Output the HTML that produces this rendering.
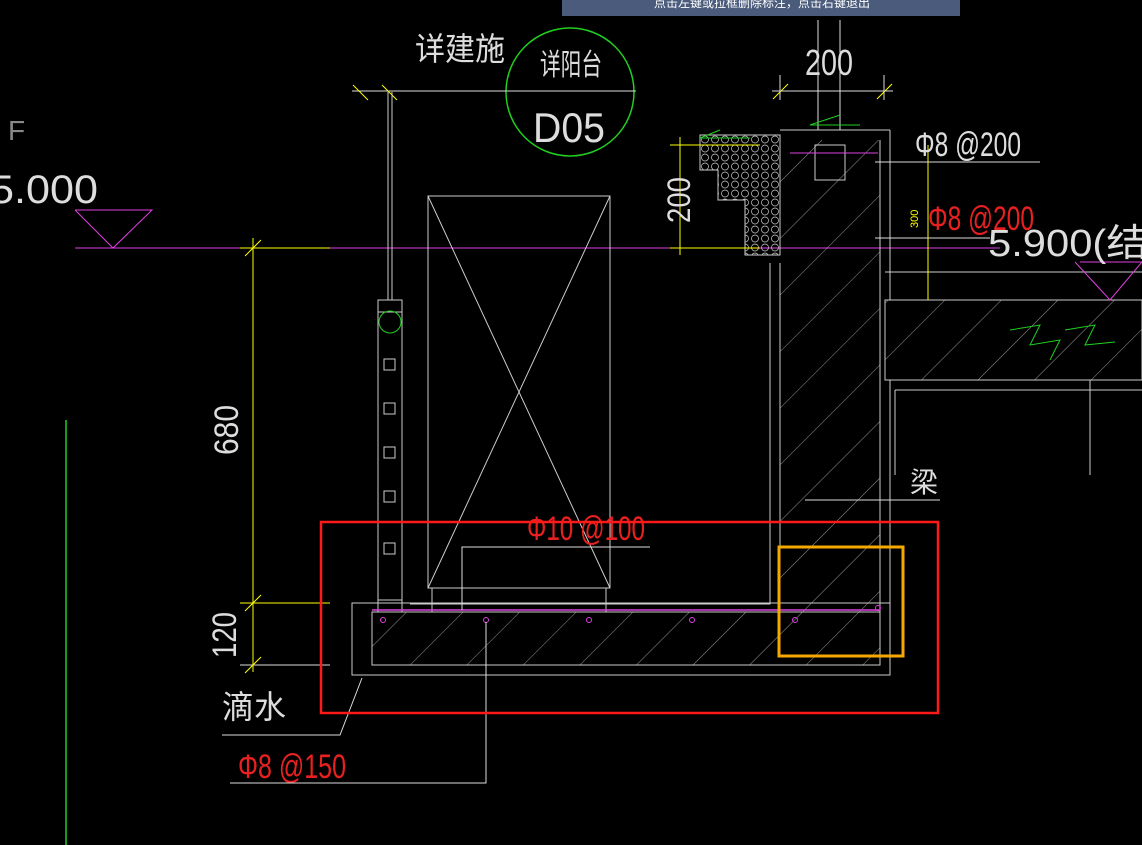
<!DOCTYPE html>
<html><head><meta charset="utf-8"><style>
html,body{margin:0;padding:0;background:#000;width:1142px;height:845px;overflow:hidden}
svg{display:block}
text{font-family:"Liberation Sans","Noto Sans CJK SC",sans-serif}
</style></head><body>
<svg width="1142" height="845" viewBox="0 0 1142 845" xmlns="http://www.w3.org/2000/svg">
<defs>
<pattern id="h" width="40" height="40" patternUnits="userSpaceOnUse" patternTransform="rotate(45)">
<line x1="0" y1="0" x2="0" y2="40" stroke="#bbb" stroke-width="0.8"/>
</pattern>
<pattern id="c" width="10" height="9" patternUnits="userSpaceOnUse">
<circle cx="5" cy="4.5" r="3.5" fill="none" stroke="#ccc" stroke-width="0.7"/>
</pattern>
</defs>
<rect width="1142" height="845" fill="#000"/>
<rect x="562" y="0" width="398" height="16" fill="#4a5b7c"/>
<text x="762" y="7" fill="#fff" font-size="12" text-anchor="middle">点击左键或拉框删除标注，点击右键退出</text>
<text x="415" y="60" fill="#ddd" font-size="32" textLength="90" lengthAdjust="spacingAndGlyphs">详建施</text>
<circle cx="570" cy="92" r="64" fill="none" stroke="#1fd01f" stroke-width="1.5"/>
<line x1="352" y1="91" x2="636" y2="91" stroke="#ddd" stroke-width="1"/>
<text x="540" y="75" fill="#ddd" font-size="30" textLength="62" lengthAdjust="spacingAndGlyphs">详阳台</text>
<text x="533" y="142" fill="#ddd" font-size="42" textLength="72" lengthAdjust="spacingAndGlyphs">D05</text>
<line x1="353" y1="85" x2="368" y2="100" stroke="#ff0" /><line x1="382" y1="85" x2="397" y2="100" stroke="#ff0"/>
<line x1="772" y1="91" x2="893" y2="91" stroke="#ddd"/>
<line x1="773" y1="99" x2="788" y2="84" stroke="#ff0"/><line x1="877" y1="99" x2="892" y2="84" stroke="#ff0"/>
<line x1="780" y1="75" x2="780" y2="100" stroke="#ddd"/><line x1="884" y1="75" x2="884" y2="100" stroke="#ddd"/>
<text x="805" y="75" fill="#ddd" font-size="36" textLength="48" lengthAdjust="spacingAndGlyphs">200</text>
<line x1="818" y1="20" x2="818" y2="130" stroke="#ddd"/><line x1="840" y1="20" x2="840" y2="130" stroke="#ddd"/>
<text x="8" y="140" fill="#888" font-size="28">F</text>
<text x="-10" y="203" fill="#ddd" font-size="40" textLength="108" lengthAdjust="spacingAndGlyphs">5.000</text>
<polyline points="75,210 152,210 113,248 75,210" fill="none" stroke="#e040e0"/>
<line x1="75" y1="248" x2="1000" y2="248" stroke="#e040e0"/>
<line x1="66" y1="420" x2="66" y2="845" stroke="#1fd01f" stroke-width="1.5"/>
<line x1="253" y1="238" x2="253" y2="672" stroke="#ff0"/>
<line x1="240" y1="248" x2="330" y2="248" stroke="#ff0"/>
<line x1="240" y1="603" x2="330" y2="603" stroke="#ff0"/>
<line x1="240" y1="665" x2="330" y2="665" stroke="#ddd"/>
<line x1="245" y1="256" x2="261" y2="240" stroke="#ff0"/><line x1="245" y1="611" x2="261" y2="595" stroke="#ff0"/><line x1="245" y1="673" x2="261" y2="657" stroke="#ff0"/>
<text transform="translate(238,430) rotate(-90)" fill="#ddd" font-size="34" text-anchor="middle" textLength="50" lengthAdjust="spacingAndGlyphs">680</text>
<text transform="translate(236,635) rotate(-90)" fill="#ddd" font-size="34" text-anchor="middle" textLength="46" lengthAdjust="spacingAndGlyphs">120</text>
<line x1="378" y1="300" x2="378" y2="612" stroke="#ccc"/><line x1="402" y1="300" x2="402" y2="612" stroke="#ccc"/>
<line x1="388" y1="92" x2="388" y2="300" stroke="#ccc"/><line x1="392" y1="92" x2="392" y2="300" stroke="#ccc"/>
<rect x="378" y="300" width="24" height="12" fill="none" stroke="#ccc"/>
<rect x="378" y="600" width="24" height="12" fill="none" stroke="#ccc"/>
<circle cx="390" cy="322" r="11" fill="none" stroke="#1fd01f"/>
<g fill="none" stroke="#ccc"><rect x="384" y="359" width="11" height="11"/><rect x="384" y="403" width="11" height="11"/><rect x="384" y="447" width="11" height="11"/><rect x="384" y="491" width="11" height="11"/><rect x="384" y="543" width="11" height="11"/></g>
<rect x="428" y="196" width="182" height="392" fill="none" stroke="#ccc"/>
<line x1="428" y1="196" x2="610" y2="588" stroke="#ccc"/><line x1="610" y1="196" x2="428" y2="588" stroke="#ccc"/>
<line x1="432" y1="588" x2="432" y2="612" stroke="#ccc"/><line x1="606" y1="588" x2="606" y2="612" stroke="#ccc"/>
<polyline points="770,263 770,520 770,604 410,604" fill="none" stroke="#ccc"/>
<rect x="352" y="603" width="538" height="72" fill="none" stroke="#ccc"/>
<rect x="372" y="612" width="508" height="53" fill="url(#h)" stroke="#ccc"/>
<polyline points="780,263 780,612" fill="none" stroke="#ccc"/>
<rect x="780" y="140" width="100" height="472" fill="url(#h)" stroke="none"/>
<line x1="880" y1="140" x2="880" y2="665" stroke="#ccc"/>
<line x1="890" y1="130" x2="890" y2="300" stroke="#ccc"/><line x1="890" y1="380" x2="890" y2="675" stroke="#ccc"/>
<line x1="780" y1="130" x2="890" y2="130" stroke="#ccc"/>
<polygon points="700,135 780,135 780,255 745,255 745,200 718,200 718,170 700,170" fill="url(#c)" stroke="#ccc"/>
<line x1="670" y1="145" x2="760" y2="145" stroke="#ff0"/><line x1="670" y1="248" x2="760" y2="248" stroke="#ff0"/>
<line x1="680" y1="137" x2="680" y2="255" stroke="#ff0"/>
<text transform="translate(690,200) rotate(-90)" fill="#ddd" font-size="32" text-anchor="middle" textLength="46" lengthAdjust="spacingAndGlyphs">200</text>
<polyline points="750,138 700,138 720,130" fill="none" stroke="#1fd01f"/><polyline points="860,125 810,125 840,115" fill="none" stroke="#1fd01f"/>
<rect x="815" y="145" width="30" height="35" fill="none" stroke="#ccc"/>
<line x1="790" y1="153" x2="878" y2="153" stroke="#e040e0"/>
<rect x="885" y="300" width="257" height="80" fill="url(#h)" stroke="#ccc"/>
<line x1="885" y1="272" x2="1142" y2="272" stroke="#ccc"/>
<line x1="895" y1="390" x2="895" y2="475" stroke="#ccc"/><line x1="1090" y1="380" x2="1090" y2="475" stroke="#ccc"/><line x1="895" y1="390" x2="1142" y2="390" stroke="#ccc"/>
<polyline points="1010,330 1040,325 1030,345 1060,340 1050,360" fill="none" stroke="#1fd01f"/>
<polyline points="1065,330 1095,325 1085,345 1115,342" fill="none" stroke="#1fd01f"/>
<line x1="928" y1="145" x2="928" y2="300" stroke="#ff0"/>
<polyline points="1075,262 1110,300 1142,262" fill="none" stroke="#e040e0"/>
<line x1="1080" y1="262" x2="1142" y2="262" stroke="#e040e0"/>
<text x="915" y="156" fill="#ddd" font-size="34" textLength="106" lengthAdjust="spacingAndGlyphs">Φ8 @200</text>
<line x1="875" y1="162" x2="1040" y2="162" stroke="#ddd"/>
<text x="928" y="230" fill="#e82020" font-size="34" textLength="106" lengthAdjust="spacingAndGlyphs">Φ8 @200</text>
<text x="988" y="256" fill="#ddd" font-size="38" textLength="160" lengthAdjust="spacingAndGlyphs">5.900(结</text>
<text transform="translate(918,228) rotate(-90)" fill="#ff0" font-size="11">300</text>
<line x1="875" y1="238" x2="990" y2="238" stroke="#ddd"/>
<text x="910" y="492" fill="#ddd" font-size="28">梁</text>
<line x1="805" y1="500" x2="940" y2="500" stroke="#ddd"/>
<line x1="372" y1="610" x2="880" y2="610" stroke="#e040e0" stroke-width="1.5"/>
<g fill="none" stroke="#e040e0"><circle cx="383" cy="620" r="2.5"/><circle cx="486" cy="620" r="2.5"/><circle cx="589" cy="620" r="2.5"/><circle cx="692" cy="620" r="2.5"/><circle cx="795" cy="620" r="2.5"/><circle cx="878" cy="608" r="2.5"/></g>
<text x="527" y="540" fill="#e82020" font-size="34" textLength="118" lengthAdjust="spacingAndGlyphs">Φ10 @100</text>
<polyline points="650,547 462,547 462,610" fill="none" stroke="#ddd"/>
<text x="222" y="718" fill="#ddd" font-size="32">滴水</text>
<polyline points="222,735 340,735 362,678" fill="none" stroke="#ddd"/>
<text x="238" y="778" fill="#e82020" font-size="34" textLength="108" lengthAdjust="spacingAndGlyphs">Φ8 @150</text>
<polyline points="230,783 486,783 486,622" fill="none" stroke="#ddd"/>
<rect x="321" y="522" width="617" height="191" fill="none" stroke="#ff1a1a" stroke-width="2.5"/>
<rect x="779" y="547" width="124" height="109" fill="none" stroke="#f5a800" stroke-width="3"/>
</svg>
</body></html>
